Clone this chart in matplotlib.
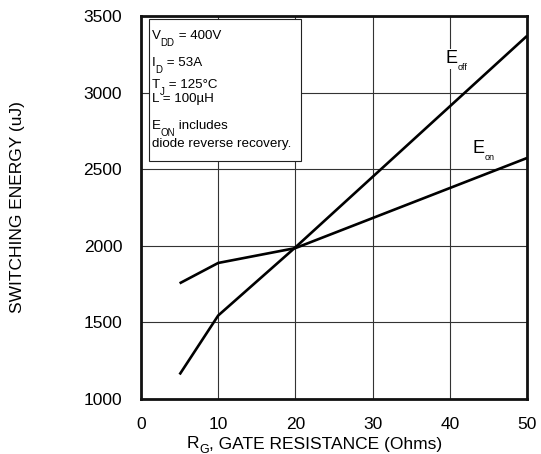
import matplotlib
matplotlib.use("Agg")
import matplotlib.pyplot as plt
from matplotlib.patches import Rectangle

plt.rcParams['font.family'] = ['Liberation Sans', 'DejaVu Sans']

# Data
rg_off = [5, 10, 20, 50]
e_off = [1160, 1545, 1990, 3370]
rg_on = [5, 10, 20, 50]
e_on = [1755, 1888, 1985, 2573]
xticks = [0, 10, 20, 30, 40, 50]
yticks = [1000, 1500, 2000, 2500, 3000, 3500]
# each box line: list of (text, is_subscript)
box_lines = [
    [("V", False), ("DD", True), (" = 400V", False)],
    [("I", False), ("D", True), (" = 53A", False)],
    [("T", False), ("J", True), (" = 125°C", False)],
    [("L = 100µH", False)],
    [("E", False), ("ON", True), (" includes", False)],
    [("diode reverse recovery.", False)],
]

fig = plt.figure(figsize=(5.41, 4.54), dpi=100)
ax = fig.add_axes([141/541, 1-399/454, 386/541, 383/454])

ax.set_xlim(0, 50)
ax.set_ylim(1000, 3500)
ax.set_xticks(xticks)
ax.set_yticks(yticks)
ax.tick_params(length=0, labelsize=12.5)
ax.tick_params(axis='y', pad=13.5)
ax.tick_params(axis='x', pad=13)
ax.grid(True, color='#333333', linewidth=0.8)
ax.set_axisbelow(True)
for s in ax.spines.values():
    s.set_linewidth(2.0)
    s.set_color('#111111')

ax.plot(rg_off, e_off, color='black', linewidth=1.9, solid_capstyle='butt', zorder=3)
ax.plot(rg_on, e_on, color='black', linewidth=1.9, solid_capstyle='butt', zorder=3)


def chained(first_artist, parts, main_size, sub_size, sub_dy, zorder=5):
    prev = first_artist
    prev_sub = False
    for txt, is_sub in parts:
        if is_sub:
            dy = -sub_dy
            size = sub_size
        else:
            dy = sub_dy if prev_sub else 0
            size = main_size
        prev = ax.annotate(txt, xy=(1, 0), xycoords=prev, xytext=(0, dy),
                           textcoords='offset points', fontsize=size,
                           va='bottom', ha='left', zorder=zorder,
                           annotation_clip=False)
        prev_sub = is_sub
    return prev


# Annotation box
ax.add_patch(Rectangle((0.021, 0.621), 0.394, 0.371, transform=ax.transAxes,
                       facecolor='white', edgecolor='#222222', linewidth=0.8, zorder=4))
ys = [0.940, 0.870, 0.812, 0.775, 0.705, 0.658]
box_size = 9.6
for parts, y in zip(box_lines, ys):
    first = ax.text(0.028, y, parts[0][0], transform=ax.transAxes, fontsize=box_size,
                    va='baseline', ha='left', zorder=5)
    if len(parts) > 1:
        chained(first, parts[1:], box_size, 7.0, 4.6)

# Curve labels
e1 = ax.text(0.788, 0.876, "E", transform=ax.transAxes, fontsize=13, va='baseline',
             ha='left', zorder=5, bbox=dict(facecolor='white', edgecolor='none', pad=1))
chained(e1, [("off", True)], 13, 6.5, 3.0)
e2 = ax.text(0.860, 0.641, "E", transform=ax.transAxes, fontsize=13, va='baseline',
             ha='left', zorder=5, bbox=dict(facecolor='white', edgecolor='none', pad=1))
chained(e2, [("on", True)], 13, 6.5, 3.0)

# Axis labels
r = fig.text(187/541, 5.5/454, "R", fontsize=12.5, ha='left', va='baseline')
ga = ax.annotate("G", xy=(1, 0), xycoords=r, xytext=(0, -3.5), textcoords='offset points',
                 fontsize=9, va='bottom', ha='left', annotation_clip=False)
ax.annotate(", GATE RESISTANCE (Ohms)", xy=(1, 0), xycoords=ga, xytext=(0, 3.5),
            textcoords='offset points', fontsize=12.5, va='bottom', ha='left',
            annotation_clip=False)
fig.text(18/541, 1-207/454, "SWITCHING ENERGY (uJ)", fontsize=12.5, rotation=90,
         ha='center', va='center')

fig.savefig("out.png", dpi=100, facecolor='white')
